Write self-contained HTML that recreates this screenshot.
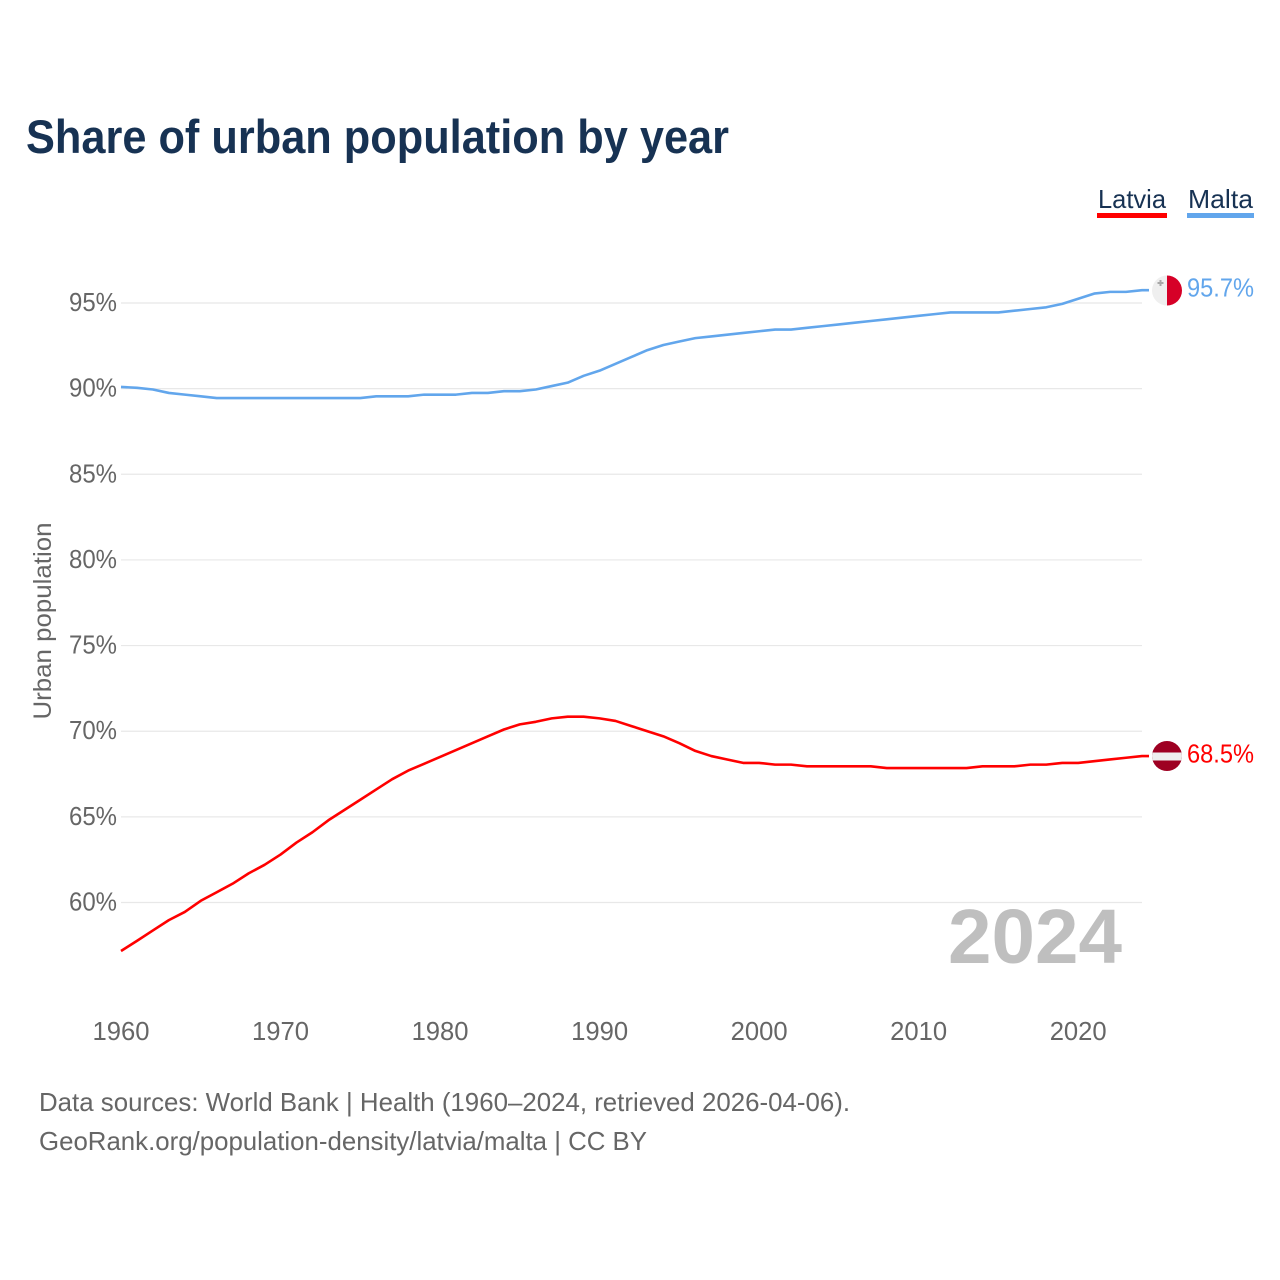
<!DOCTYPE html>
<html lang="en">
<head>
<meta charset="utf-8">
<title>Share of urban population by year</title>
<style>
html,body{margin:0;padding:0;background:#fff;}
svg{display:block;font-family:"Liberation Sans",sans-serif;}
</style>
</head>
<body>
<svg id="chart" xmlns="http://www.w3.org/2000/svg" width="1280" height="1280" viewBox="0 0 1280 1280">
  <rect x="0" y="0" width="1280" height="1280" fill="#ffffff"/>
  <text x="26" y="153" font-size="47" font-weight="700" fill="#173253" textLength="703" lengthAdjust="spacingAndGlyphs">Share of urban population by year</text>

  <g>
    <text x="1098" y="208" font-size="26" fill="#173253" textLength="68" lengthAdjust="spacingAndGlyphs">Latvia</text>
    <rect x="1097" y="213" width="70" height="5" fill="#ff0000"/>
  </g>
  <g>
    <text x="1188" y="208" font-size="26" fill="#173253" textLength="65" lengthAdjust="spacingAndGlyphs">Malta</text>
    <rect x="1187" y="213" width="67" height="5" fill="#62a6ec"/>
  </g>

  <g id="grid"></g>
  <g id="yticks"></g>
  <g id="xticks"></g>
  <text transform="translate(51,621) rotate(-90)" text-anchor="middle" font-size="25" fill="#666666" textLength="197" lengthAdjust="spacingAndGlyphs">Urban population</text>
  <text x="948" y="963" font-size="77" font-weight="700" fill="#bfbfbf" textLength="174" lengthAdjust="spacingAndGlyphs">2024</text>
  <g id="series"></g>

  <defs>
    <clipPath id="flag-clip-malta"><circle cx="1167" cy="290.5" r="15"/></clipPath>
    <clipPath id="flag-clip-latvia"><circle cx="1167" cy="756" r="15"/></clipPath>
  </defs>
  <g id="flag-malta" clip-path="url(#flag-clip-malta)">
    <rect x="1152" y="275" width="15" height="31" fill="#efefef"/>
    <rect x="1167" y="275" width="15" height="31" fill="#d60027"/>
    <path d="M1159.5 280h2v2h2v2h-2v2h-2v-2h-2v-2h2z" fill="#a8a8a8"/>
  </g>
  <g id="flag-latvia" clip-path="url(#flag-clip-latvia)">
    <rect x="1152" y="741" width="30" height="30" fill="#9e0022"/>
    <rect x="1152" y="752.5" width="30" height="8" fill="#eeeeee"/>
  </g>
  <text x="1187" y="296.5" font-size="26" fill="#62a6ec" textLength="67" lengthAdjust="spacingAndGlyphs">95.7%</text>
  <text x="1187" y="762.5" font-size="26" fill="#ff0000" textLength="67" lengthAdjust="spacingAndGlyphs">68.5%</text>

  <text x="39" y="1111" font-size="26" fill="#666666" textLength="811" lengthAdjust="spacingAndGlyphs">Data sources: World Bank | Health (1960–2024, retrieved 2026-04-06).</text>
  <text x="39" y="1150" font-size="26" fill="#666666" textLength="608" lengthAdjust="spacingAndGlyphs">GeoRank.org/population-density/latvia/malta | CC BY</text>
</svg>
<script>
const yTicks = [60, 65, 70, 75, 80, 85, 90, 95];
const xTicks = [1960, 1970, 1980, 1990, 2000, 2010, 2020];
const startYear = 1960;
const malta = [90.1,90.05,89.95,89.75,89.65,89.55,89.45,89.45,89.45,89.45,89.45,89.45,89.45,89.45,89.45,89.45,89.55,89.55,89.55,89.65,89.65,89.65,89.75,89.75,89.85,89.85,89.95,90.15,90.35,90.75,91.05,91.45,91.85,92.25,92.55,92.75,92.95,93.05,93.15,93.25,93.35,93.45,93.45,93.55,93.65,93.75,93.85,93.95,94.05,94.15,94.25,94.35,94.45,94.45,94.45,94.45,94.55,94.65,94.75,94.95,95.25,95.55,95.65,95.65,95.75];
const latvia = [57.17,57.76,58.37,58.97,59.45,60.1,60.6,61.1,61.7,62.2,62.8,63.5,64.1,64.8,65.4,66.0,66.6,67.2,67.7,68.1,68.5,68.9,69.3,69.7,70.1,70.4,70.55,70.75,70.85,70.85,70.75,70.6,70.3,70.0,69.7,69.3,68.85,68.55,68.35,68.15,68.15,68.05,68.05,67.95,67.95,67.95,67.95,67.95,67.85,67.85,67.85,67.85,67.85,67.85,67.95,67.95,67.95,68.05,68.05,68.15,68.15,68.25,68.35,68.45,68.55];

const NS = 'http://www.w3.org/2000/svg';
const xScale = function (year) { return 121 + (year - 1960) * (1142 - 121) / 64; };
const yScale = function (v) { return 902.5 - (v - 60) * (902.5 - 303) / 35; };

const grid = document.getElementById('grid');
const yG = document.getElementById('yticks');
const xG = document.getElementById('xticks');
const seriesG = document.getElementById('series');

yTicks.forEach(function (t) {
  const line = document.createElementNS(NS, 'line');
  
  
  line.setAttribute('x1', xScale(1960));
  line.setAttribute('x2', xScale(2024));
  line.setAttribute('y1', yScale(t));
  line.setAttribute('y2', yScale(t));
  line.setAttribute('stroke', '#e8e8e8');
  line.setAttribute('stroke-width', '1.2');
  grid.appendChild(line);

  const label = document.createElementNS(NS, 'text');
  
  
  label.setAttribute('x', 117);
  label.setAttribute('y', yScale(t) + 8);
  label.setAttribute('text-anchor', 'end');
  label.setAttribute('font-size', '26');
  label.setAttribute('fill', '#666666');
  label.setAttribute('textLength', '48');
  label.setAttribute('lengthAdjust', 'spacingAndGlyphs');
  label.textContent = t + '%';
  yG.appendChild(label);
});

xTicks.forEach(function (t) {
  const label = document.createElementNS(NS, 'text');
  
  
  label.setAttribute('x', xScale(t));
  label.setAttribute('y', 1040);
  label.setAttribute('text-anchor', 'middle');
  label.setAttribute('font-size', '26');
  label.setAttribute('fill', '#666666');
  label.setAttribute('textLength', '57');
  label.setAttribute('lengthAdjust', 'spacingAndGlyphs');
  label.textContent = t;
  xG.appendChild(label);
});

function buildPath(values) {
  let d = '';
  values.forEach(function (v, i) {
    d += (i ? 'L' : 'M') + xScale(startYear + i).toFixed(2) + ' ' + yScale(v).toFixed(2);
  });
  const lastY = yScale(values[values.length - 1]).toFixed(2);
  return d + 'L1149 ' + lastY;
}

const malteseLine = document.createElementNS(NS, 'path');


malteseLine.setAttribute('d', buildPath(malta));
malteseLine.setAttribute('fill', 'none');
malteseLine.setAttribute('stroke', '#62a6ec');
malteseLine.setAttribute('stroke-width', '2.6');
malteseLine.setAttribute('stroke-linejoin', 'round');
seriesG.appendChild(malteseLine);

const latvianLine = document.createElementNS(NS, 'path');


latvianLine.setAttribute('d', buildPath(latvia));
latvianLine.setAttribute('fill', 'none');
latvianLine.setAttribute('stroke', '#ff0000');
latvianLine.setAttribute('stroke-width', '2.6');
latvianLine.setAttribute('stroke-linejoin', 'round');
seriesG.appendChild(latvianLine);
</script>
</body>
</html>
